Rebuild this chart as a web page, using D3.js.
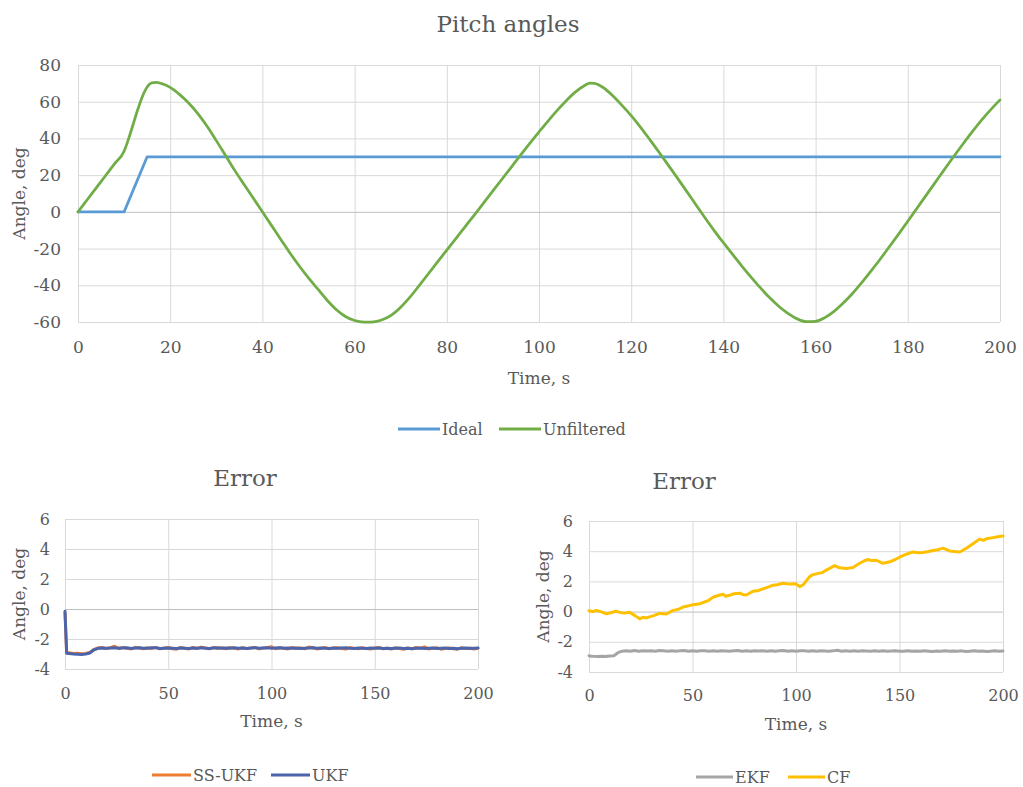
<!DOCTYPE html>
<html>
<head>
<meta charset="utf-8">
<script src="https://cdn.jsdelivr.net/npm/d3@7"></script>
<style>
  html, body { margin: 0; padding: 0; background: #ffffff; }
  svg { display: block; }
  text { font-family: "DejaVu Serif", "Liberation Serif", serif; fill: #595959; }
</style>
</head>
<body>
<svg id="chart" width="1023" height="787"></svg>
<script>
// ---------- Pitch angles (top chart) ----------
const pitchTicksX = [0, 20, 40, 60, 80, 100, 120, 140, 160, 180, 200];
const pitchTicksY = [-60, -40, -20, 0, 20, 40, 60, 80];

const idealTime = [0, 10, 15, 200];
const idealAngle = [0, 0, 30, 30];

const unfilteredTime = [
  0, 2, 4, 6, 8, 10, 11, 12, 13, 14, 15, 16, 17, 18, 20, 22, 24, 26, 28, 30,
  32, 34, 36, 38, 40, 42, 44, 46, 48, 50, 52, 54, 56, 58, 60, 62, 63.5, 65, 66, 68,
  70, 72, 74, 76, 78, 80, 82, 84, 86, 88, 90, 92, 94, 96, 98, 100, 102, 104, 106, 108,
  110, 111, 112, 114, 116, 118, 120, 122, 124, 126, 128, 130, 132, 134, 136, 138, 140, 142, 144, 146,
  148, 150, 152, 154, 156, 158, 160, 162, 164, 166, 168, 170, 172, 174, 176, 178, 180, 182, 184, 186,
  188, 190, 192, 194, 196, 198, 200
];
const unfilteredAngle = [
  0, 6.6, 13.2, 19.8, 26.4, 33, 40, 48, 56, 63, 68, 70.3, 70.5, 70, 67.8, 64, 59.3, 53.5, 46.6, 38.8,
  30.7, 22.6, 15, 7.5, 0, -7.5, -15, -22.5, -29.5, -36, -42, -48, -53.2, -57, -59.2, -60, -60, -59.5, -58.8, -56.3,
  -52, -46.5, -40.2, -33.7, -27.2, -20.8, -14.4, -8, -1.6, 4.9, 11.4, 17.9, 24.4, 30.9, 37.3, 43.5, 49.6, 55.4, 60.8, 65.5,
  69, 70.1, 70, 67.6, 63.2, 58, 52.4, 46.2, 39.5, 32.6, 25.6, 18.5, 11.3, 4, -3.2, -10.2, -16.8, -23.2, -29.5, -35.5,
  -41.3, -46.7, -51.4, -55.3, -58.3, -59.8, -59.6, -57.6, -54.2, -49.7, -44.5, -38.6, -32.3, -25.8, -19, -12.1, -5.1, 2, 9.1, 16.2,
  23.3, 30.3, 37.1, 43.7, 50, 55.7, 61
];

// ---------- Error charts (bottom) ----------
const errTicksX = [0, 50, 100, 150, 200];
const errTicksY = [-4, -2, 0, 2, 4, 6];

const errTime = [
  0, 0.8, 2, 4, 6, 8, 10, 12, 14, 16, 18, 20, 22, 24, 26, 28, 30, 32, 34, 36,
  38, 40, 42, 44, 46, 48, 50, 52, 54, 56, 58, 60, 62, 64, 66, 68, 70, 72, 74, 76,
  78, 80, 82, 84, 86, 88, 90, 92, 94, 96, 98, 100, 102, 104, 106, 108, 110, 112, 114, 116,
  118, 120, 122, 124, 126, 128, 130, 132, 134, 136, 138, 140, 142, 144, 146, 148, 150, 152, 154, 156,
  158, 160, 162, 164, 166, 168, 170, 172, 174, 176, 178, 180, 182, 184, 186, 188, 190, 192, 194, 196,
  198, 200
];

const ssukfErr = [
  -0.25, -2.9, -2.92, -2.97, -2.95, -2.99, -2.96, -2.9, -2.7, -2.6, -2.57, -2.64, -2.58, -2.48, -2.63, -2.56, -2.62, -2.66, -2.56, -2.6,
  -2.65, -2.58, -2.63, -2.56, -2.66, -2.6, -2.57, -2.65, -2.68, -2.56, -2.62, -2.66, -2.57, -2.63, -2.54, -2.6, -2.66, -2.56, -2.63, -2.58,
  -2.65, -2.57, -2.62, -2.66, -2.58, -2.63, -2.6, -2.56, -2.66, -2.6, -2.57, -2.52, -2.65, -2.58, -2.62, -2.66, -2.56, -2.63, -2.59, -2.65,
  -2.54, -2.58, -2.66, -2.62, -2.56, -2.65, -2.6, -2.58, -2.63, -2.67, -2.57, -2.62, -2.65, -2.58, -2.63, -2.67, -2.6, -2.56, -2.65, -2.62,
  -2.67, -2.58, -2.64, -2.68, -2.6, -2.65, -2.57, -2.62, -2.52, -2.66, -2.62, -2.58, -2.68, -2.63, -2.6, -2.65, -2.68, -2.58, -2.64, -2.6,
  -2.67, -2.62
];
const ukfErr = [
  -0.15, -2.95, -2.97, -3.0, -3.01, -3.03, -3.0, -2.93, -2.72, -2.62, -2.6, -2.62, -2.6, -2.58, -2.62, -2.6, -2.59, -2.63, -2.6, -2.58,
  -2.62, -2.62, -2.59, -2.58, -2.63, -2.61, -2.6, -2.62, -2.64, -2.6, -2.61, -2.63, -2.6, -2.62, -2.59, -2.61, -2.63, -2.6, -2.58, -2.62,
  -2.6, -2.62, -2.59, -2.61, -2.6, -2.63, -2.6, -2.58, -2.62, -2.6, -2.59, -2.62, -2.6, -2.58, -2.62, -2.6, -2.62, -2.6, -2.63, -2.61,
  -2.6, -2.58, -2.62, -2.6, -2.62, -2.63, -2.6, -2.62, -2.6, -2.59, -2.62, -2.63, -2.6, -2.62, -2.64, -2.6, -2.62, -2.6, -2.63, -2.61,
  -2.64, -2.62, -2.6, -2.63, -2.61, -2.65, -2.62, -2.6, -2.63, -2.61, -2.6, -2.64, -2.62, -2.6, -2.63, -2.61, -2.65, -2.62, -2.6, -2.63,
  -2.61, -2.6
];

const ekfErr = [
  -2.92, -2.95, -2.96, -2.97, -2.95, -2.97, -2.94, -2.92, -2.72, -2.62, -2.6, -2.62, -2.58, -2.62, -2.59, -2.61, -2.6, -2.62, -2.58, -2.6,
  -2.62, -2.6, -2.62, -2.6, -2.58, -2.62, -2.6, -2.63, -2.6, -2.59, -2.62, -2.6, -2.62, -2.6, -2.61, -2.63, -2.6, -2.58, -2.62, -2.6,
  -2.62, -2.59, -2.61, -2.6, -2.62, -2.6, -2.62, -2.6, -2.58, -2.62, -2.6, -2.62, -2.59, -2.6, -2.62, -2.6, -2.62, -2.6, -2.61, -2.63,
  -2.6, -2.56, -2.62, -2.6, -2.62, -2.6, -2.62, -2.6, -2.61, -2.63, -2.6, -2.62, -2.6, -2.62, -2.61, -2.6, -2.63, -2.62, -2.6, -2.62,
  -2.61, -2.63, -2.6, -2.62, -2.64, -2.61, -2.62, -2.6, -2.63, -2.61, -2.62, -2.6, -2.64, -2.62, -2.6, -2.63, -2.61, -2.64, -2.62, -2.6,
  -2.62, -2.61
];

const cfTime = [
  0, 2, 3.5, 6, 8.4, 11, 13, 14.8, 17, 19.6, 22, 24.5, 26, 27.7, 30.9, 32.5, 34.1, 37.4, 40.6, 43,
  45.4, 48, 50.2, 53, 55, 57.5, 59.9, 62, 64.7, 66, 67.9, 70, 72.8, 74.5, 76, 79.2, 82, 84, 86.5, 88.9,
  91, 93.7, 96.9, 100, 101.8, 103.5, 105, 106.5, 108.2, 111.4, 113, 114.6, 116.5, 118.7, 121, 124.3, 127.5, 130.8, 132.8, 134.8,
  136.5, 138.8, 142, 145.3, 148, 150, 153.3, 156.5, 159, 161.3, 164, 166.2, 168.5, 171, 174.2, 176.5, 179.1, 182.3, 185.5, 188.7,
  190.5, 191.9, 195.2, 197.5, 200
];
const cfErr = [
  0.05, 0.0, 0.08, -0.02, -0.15, -0.06, 0.02, -0.05, -0.1, -0.04, -0.25, -0.48, -0.38, -0.42, -0.28, -0.2, -0.12, -0.16, 0.08, 0.14,
  0.3, 0.38, 0.45, 0.5, 0.6, 0.72, 0.95, 1.05, 1.15, 1.02, 1.08, 1.18, 1.22, 1.12, 1.1, 1.35, 1.4, 1.5, 1.62, 1.75,
  1.78, 1.88, 1.82, 1.84, 1.65, 1.78, 2.05, 2.3, 2.45, 2.55, 2.6, 2.75, 2.88, 3.05, 2.9, 2.85, 2.92, 3.2, 3.35, 3.45,
  3.38, 3.4, 3.2, 3.3, 3.45, 3.6, 3.8, 3.95, 3.9, 3.92, 3.98, 4.05, 4.1, 4.2, 4.02, 3.98, 3.95, 4.2, 4.5, 4.8,
  4.72, 4.82, 4.9, 4.95, 5.0
];

const COLORS = {
  ideal: "#5b9bd5",
  unfiltered: "#70ad47",
  ssukf: "#ed7d31",
  ukf: "#4b64ac",
  ekf: "#a5a5a5",
  cf: "#ffc000",
  grid: "#d9d9d9",
  zero: "#bfbfbf"
};

const svg = d3.select("#chart");

function zip(xs, ys) { return xs.map((x, i) => ({ x, y: ys[i] })); }

// Draws one chart panel: gridlines, tick labels, titles, series and legend.
function drawPanel(cfg) {
  const x = d3.scaleLinear().domain([cfg.xTicks[0], cfg.xTicks[cfg.xTicks.length - 1]])
    .range([cfg.left, cfg.right]);
  const y = d3.scaleLinear().domain([cfg.yTicks[0], cfg.yTicks[cfg.yTicks.length - 1]])
    .range([cfg.bottom, cfg.top]);
  const g = svg.append("g");

  // vertical gridlines
  const gx = g.append("g")
    .attr("transform", `translate(0,${cfg.bottom})`)
    .call(d3.axisBottom(x).tickValues(cfg.xTicks).tickSize(-(cfg.bottom - cfg.top)).tickFormat(""));
  gx.select(".domain").remove();
  gx.selectAll("line").attr("stroke", COLORS.grid).attr("stroke-width", 1);

  // horizontal gridlines
  const gy = g.append("g")
    .attr("transform", `translate(${cfg.left},0)`)
    .call(d3.axisLeft(y).tickValues(cfg.yTicks).tickSize(-(cfg.right - cfg.left)).tickFormat(""));
  gy.select(".domain").remove();
  gy.selectAll("line")
    .attr("stroke", d => d === 0 ? COLORS.zero : COLORS.grid)
    .attr("stroke-width", 1);

  // x tick labels
  const lx = g.append("g")
    .attr("transform", `translate(0,${cfg.bottom})`)
    .call(d3.axisBottom(x).tickValues(cfg.xTicks).tickSize(0).tickPadding(0).tickFormat(d => String(d)));
  lx.select(".domain").remove();
  lx.selectAll("text")
    .attr("y", cfg.xLabelOffset).attr("dy", 0)
    .style("font-size", cfg.tickFont + "px")
    .style("font-family", "DejaVu Serif")
    .attr("fill", "#595959");

  // y tick labels
  const ly = g.append("g")
    .attr("transform", `translate(${cfg.left},0)`)
    .call(d3.axisLeft(y).tickValues(cfg.yTicks).tickSize(0).tickPadding(cfg.yLabelGap).tickFormat(d => String(d)));
  ly.select(".domain").remove();
  ly.selectAll("text")
    .style("font-size", cfg.tickFont + "px")
    .style("font-family", "DejaVu Serif")
    .attr("fill", "#595959");

  // titles
  g.append("text").attr("x", cfg.titleX).attr("y", cfg.titleY)
    .attr("text-anchor", "middle").style("font-size", cfg.titleFont + "px").text(cfg.title);
  g.append("text").attr("x", (cfg.left + cfg.right) / 2).attr("y", cfg.xTitleY)
    .attr("text-anchor", "middle").style("font-size", cfg.axisFont + "px").text("Time, s");
  g.append("text")
    .attr("transform", `translate(${cfg.yTitleX},${(cfg.top + cfg.bottom) / 2}) rotate(-90)`)
    .attr("text-anchor", "middle").style("font-size", cfg.axisFont + "px").text("Angle, deg");

  // series
  cfg.series.forEach(s => {
    const line = d3.line().x(d => x(d.x)).y(d => y(d.y)).curve(s.curve || d3.curveLinear);
    g.append("path")
      .datum(zip(s.time, s.values))
      .attr("fill", "none")
      .attr("stroke", s.color)
      .attr("stroke-width", cfg.lineWidth)
      .attr("stroke-linejoin", "round")
      .attr("stroke-linecap", "round")
      .attr("d", line);
  });

  // legend
  cfg.series.forEach(s => {
    g.append("line")
      .attr("x1", s.legendX).attr("x2", s.legendX + cfg.legendLen)
      .attr("y1", cfg.legendY).attr("y2", cfg.legendY)
      .attr("stroke", s.color).attr("stroke-width", 3);
    g.append("text")
      .attr("x", s.legendX + cfg.legendLen + 2).attr("y", cfg.legendY)
      .attr("dy", "0.35em")
      .style("font-size", cfg.legendFont + "px")
      .text(s.name);
  });
}

drawPanel({
  left: 78, right: 1000, top: 65, bottom: 322,
  xTicks: pitchTicksX, yTicks: pitchTicksY,
  tickFont: 17, axisFont: 17, titleFont: 23, legendFont: 16,
  xLabelOffset: 31, yLabelGap: 17,
  title: "Pitch angles", titleX: 508, titleY: 32,
  xTitleY: 384, yTitleX: 25,
  lineWidth: 2.75,
  legendY: 429, legendLen: 42,
  series: [
    { name: "Ideal", time: idealTime, values: idealAngle, color: COLORS.ideal, legendX: 398 },
    { name: "Unfiltered", time: unfilteredTime, values: unfilteredAngle, color: COLORS.unfiltered,
      curve: d3.curveMonotoneX, legendX: 499 }
  ]
});

drawPanel({
  left: 65, right: 478, top: 519, bottom: 669,
  xTicks: errTicksX, yTicks: errTicksY,
  tickFont: 16, axisFont: 17, titleFont: 23, legendFont: 16,
  xLabelOffset: 30, yLabelGap: 15,
  title: "Error", titleX: 245, titleY: 486,
  xTitleY: 727, yTitleX: 25,
  lineWidth: 3,
  legendY: 775, legendLen: 39,
  series: [
    { name: "SS-UKF", time: errTime, values: ssukfErr, color: COLORS.ssukf, legendX: 152 },
    { name: "UKF", time: errTime, values: ukfErr, color: COLORS.ukf, legendX: 271 }
  ]
});

drawPanel({
  left: 589, right: 1003, top: 521, bottom: 672,
  xTicks: errTicksX, yTicks: errTicksY,
  tickFont: 16, axisFont: 17, titleFont: 23, legendFont: 16,
  xLabelOffset: 29, yLabelGap: 16,
  title: "Error", titleX: 684, titleY: 489,
  xTitleY: 730, yTitleX: 549,
  lineWidth: 3,
  legendY: 777, legendLen: 37,
  series: [
    { name: "EKF", time: errTime, values: ekfErr, color: COLORS.ekf, legendX: 696 },
    { name: "CF", time: cfTime, values: cfErr, color: COLORS.cf, legendX: 788 }
  ]
});
</script>
</body>
</html>
